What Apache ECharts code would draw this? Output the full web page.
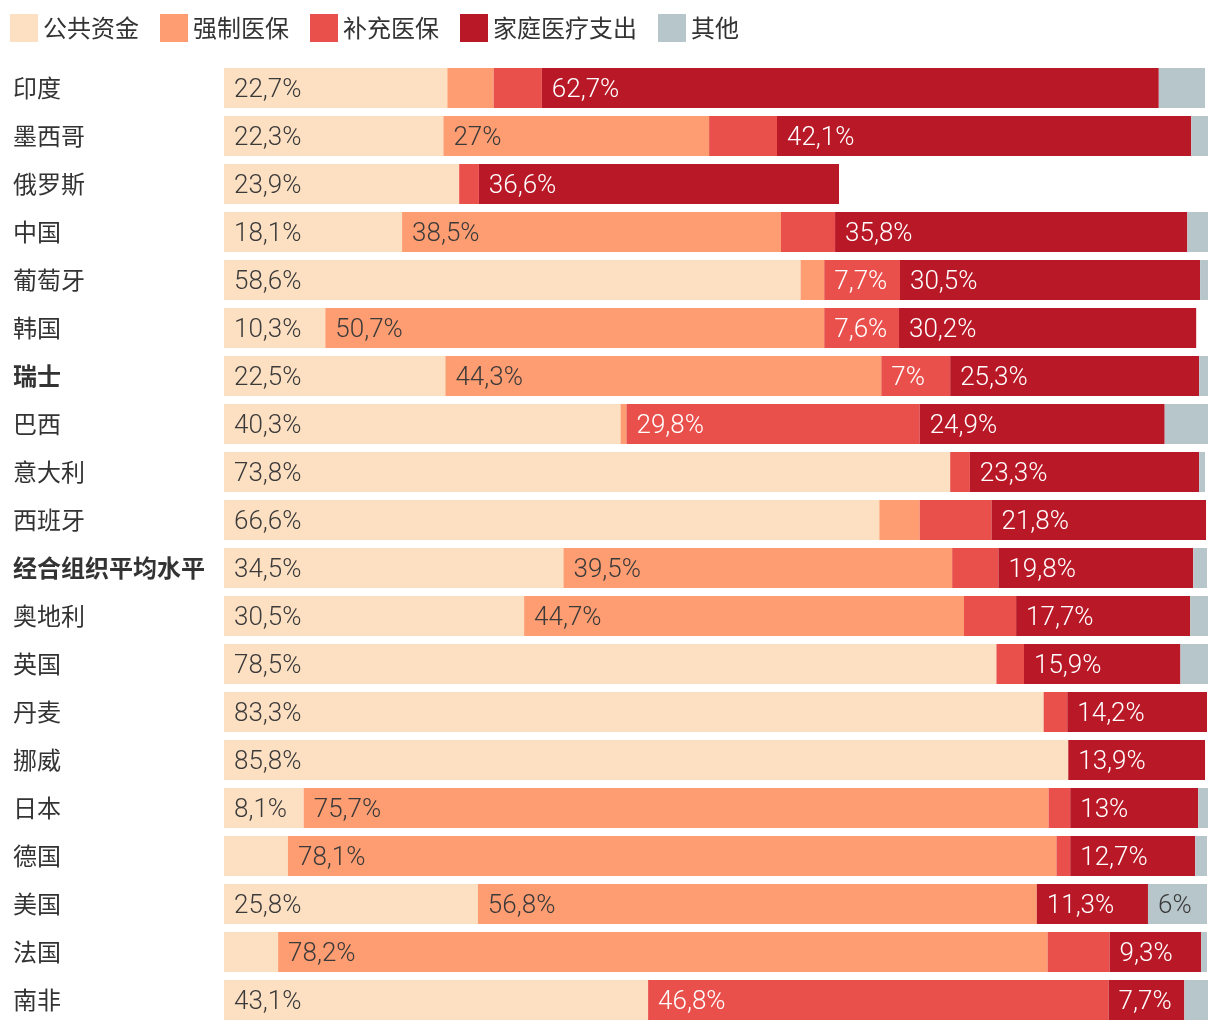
<!DOCTYPE html>
<html>
<head>
<meta charset="utf-8">
<script src="https://cdn.jsdelivr.net/npm/echarts@6/dist/echarts.min.js"></script>
<style>
html,body{margin:0;padding:0;background:#fff;}
#chart{width:1220px;height:1032px;}
</style>
</head>
<body>
<div id="chart"></div>
<script>
const categories = ['印度','墨西哥','俄罗斯','中国','葡萄牙','韩国','瑞士','巴西','意大利','西班牙','经合组织平均水平','奥地利','英国','丹麦','挪威','日本','德国','美国','法国','南非'];
const boldCategories = ['瑞士','经合组织平均水平'];
const seriesNames = ['公共资金','强制医保','补充医保','家庭医疗支出','其他'];
const publicFunds = [22.7,22.3,23.9,18.1,58.6,10.3,22.5,40.3,73.8,66.6,34.5,30.5,78.5,83.3,85.8,8.1,6.5,25.8,5.5,43.1];
const compulsory = [4.7,27,0,38.5,2.4,50.7,44.3,0.6,0,4.1,39.5,44.7,0,0,0,75.7,78.1,56.8,78.2,0];
const supplementary = [4.9,6.9,2.0,5.5,7.7,7.6,7,29.8,2.0,7.3,4.7,5.3,2.8,2.4,0,2.2,1.4,0,6.3,46.8];
const household = [62.7,42.1,36.6,35.8,30.5,30.2,25.3,24.9,23.3,21.8,19.8,17.7,15.9,14.2,13.9,13,12.7,11.3,9.3,7.7];
const other = [4.7,1.7,0,2.1,0.8,0,0.9,4.5,0.6,0,1.4,1.8,2.8,0,0,1.0,1.2,6,0.6,2.4];
// labels: shown for values >= 7, with these exceptions
const hiddenLabels = [['西班牙','补充医保']];
const shownLabels = [['美国','其他']];

const colors = ['#fddfc2','#fe9d71','#e9504b','#b91827','#b7c6ca'];
const labelColors = ['#3a3a3a','#3a3a3a','#ffffff','#ffffff','#3a3a3a'];
const allData = [publicFunds, compulsory, supplementary, household, other];

function showLabel(ci, si, v) {
  const c = categories[ci], s = seriesNames[si];
  if (hiddenLabels.some(p => p[0] === c && p[1] === s)) return false;
  if (shownLabels.some(p => p[0] === c && p[1] === s)) return true;
  return v >= 7;
}

const chart = echarts.init(document.getElementById('chart'));
const series = seriesNames.map((name, si) => ({
  name: name,
  type: 'bar',
  stack: 'total',
  barWidth: 40,
  itemStyle: { color: colors[si] },
  label: {
    show: true,
    position: 'insideLeft',
    distance: 10,
    offset: [0, 2],
    fontFamily: 'Roboto',
    fontWeight: 300,
    fontSize: 26,
    color: labelColors[si],
    formatter: p => showLabel(p.dataIndex, si, p.value) ? String(p.value).replace('.', ',') + '%' : ''
  },
  emphasis: { disabled: true },
  data: allData[si]
}));

chart.setOption({
  animation: false,
  backgroundColor: '#ffffff',
  legend: {
    left: 10,
    top: 14,
    padding: 0,
    itemWidth: 28,
    itemHeight: 28,
    itemGap: 21,
    icon: 'rect',
    textStyle: { fontSize: 24, color: '#333', fontFamily: 'Noto Sans CJK SC' },
    data: seriesNames
  },
  grid: { left: 224, right: 12, top: 64, bottom: 8 },
  xAxis: { type: 'value', min: 0, max: 100, show: false },
  yAxis: {
    type: 'category',
    inverse: true,
    data: categories,
    axisLine: { show: false },
    axisTick: { show: false },
    axisLabel: {
      align: 'left',
      margin: 211,
      fontSize: 24,
      color: '#333',
      fontFamily: 'Noto Sans CJK SC',
      formatter: v => boldCategories.includes(v) ? '{b|' + v + '}' : v,
      rich: { b: { fontWeight: 'bold', fontSize: 24, color: '#333', fontFamily: 'Noto Sans CJK SC' } }
    }
  },
  series: series
});
</script>
</body>
</html>
